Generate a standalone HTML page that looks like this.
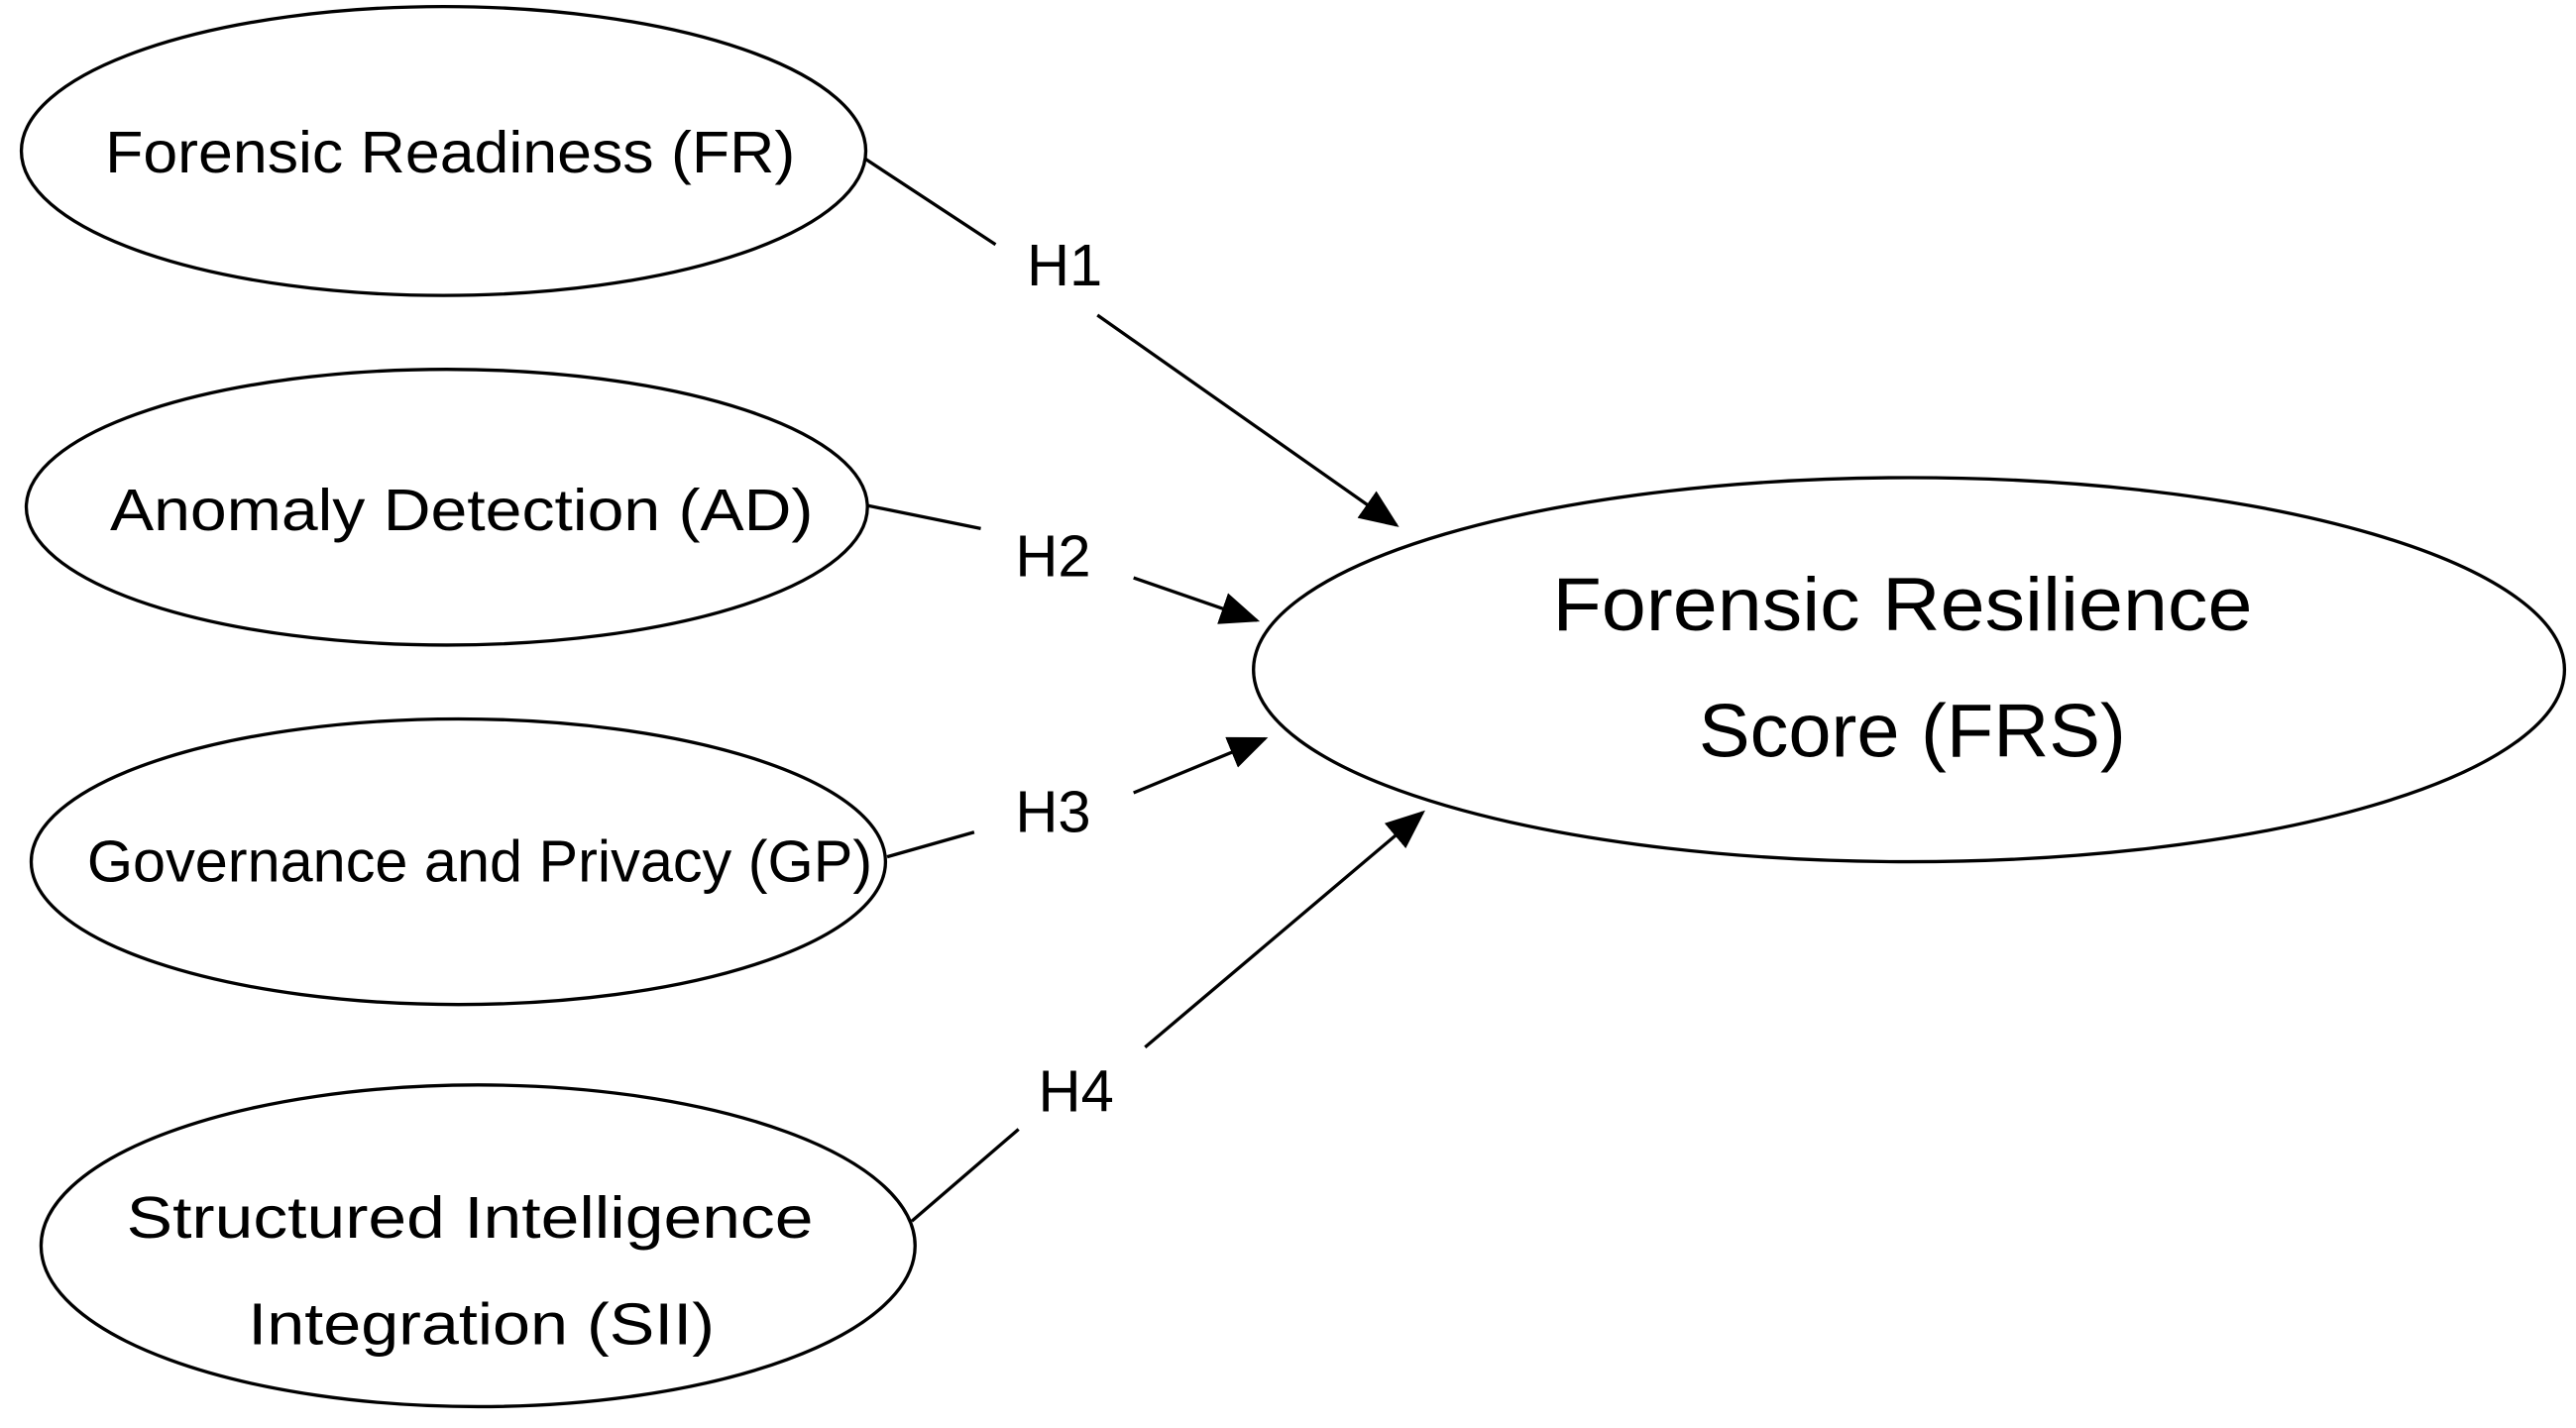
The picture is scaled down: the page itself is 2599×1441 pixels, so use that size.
<!DOCTYPE html>
<html><head><meta charset="utf-8"><style>
html,body{margin:0;padding:0;background:#fff;}
svg{display:block;}
text{font-family:"Liberation Sans","DejaVu Sans",sans-serif;fill:#000;}
</style></head><body>
<svg width="2599" height="1441" viewBox="0 0 1568 870" preserveAspectRatio="none" xmlns="http://www.w3.org/2000/svg">
<defs><marker id="a" markerWidth="10" markerHeight="10" refX="9" refY="5" orient="auto" markerUnits="userSpaceOnUse" viewBox="0 0 10 10"><path d="M0,0 L10,5 L0,10 z" fill="#000"/></marker>
<marker id="b" markerWidth="24" markerHeight="20" refX="22" refY="10" orient="auto" markerUnits="userSpaceOnUse" viewBox="0 0 24 20"><path d="M0,0 L24,10 L0,20 z" fill="#000"/></marker></defs>
<g fill="none" stroke="#000" stroke-width="2">
<ellipse cx="270" cy="92" rx="257" ry="88"/>
<ellipse cx="272" cy="309" rx="256" ry="84"/>
<ellipse cx="279" cy="525" rx="260" ry="87"/>
<ellipse cx="291" cy="759" rx="266" ry="98"/>
<ellipse cx="1162" cy="408" rx="399" ry="117"/>
<line x1="527" y1="97" x2="606" y2="149"/>
<line x1="668" y1="192" x2="850" y2="320" marker-end="url(#b)"/>
<line x1="528" y1="308" x2="597" y2="322"/>
<line x1="690" y1="352" x2="765" y2="378" marker-end="url(#b)"/>
<line x1="540" y1="522" x2="593" y2="507"/>
<line x1="690" y1="483" x2="770" y2="450" marker-end="url(#b)"/>
<line x1="555" y1="744" x2="620" y2="688"/>
<line x1="697" y1="638" x2="866" y2="495" marker-end="url(#b)"/>
</g>
<g font-size="36" text-anchor="middle">
<text x="274" y="105" textLength="420" lengthAdjust="spacingAndGlyphs">Forensic Readiness (FR)</text>
<text x="281" y="323" textLength="428" lengthAdjust="spacingAndGlyphs">Anomaly Detection (AD)</text>
<text x="292" y="537" textLength="478" lengthAdjust="spacingAndGlyphs">Governance and Privacy (GP)</text>
<text x="286" y="754" textLength="418" lengthAdjust="spacingAndGlyphs">Structured Intelligence</text>
<text x="293" y="819" textLength="284" lengthAdjust="spacingAndGlyphs">Integration (SII)</text>
<text x="648" y="174">H1</text>
<text x="641" y="351">H2</text>
<text x="641" y="507">H3</text>
<text x="655" y="677">H4</text>
</g>
<g font-size="46" text-anchor="middle">
<text x="1158" y="384" textLength="426" lengthAdjust="spacingAndGlyphs">Forensic Resilience</text>
<text x="1164" y="461" textLength="260" lengthAdjust="spacingAndGlyphs">Score (FRS)</text>
</g>
</svg>
</body></html>
